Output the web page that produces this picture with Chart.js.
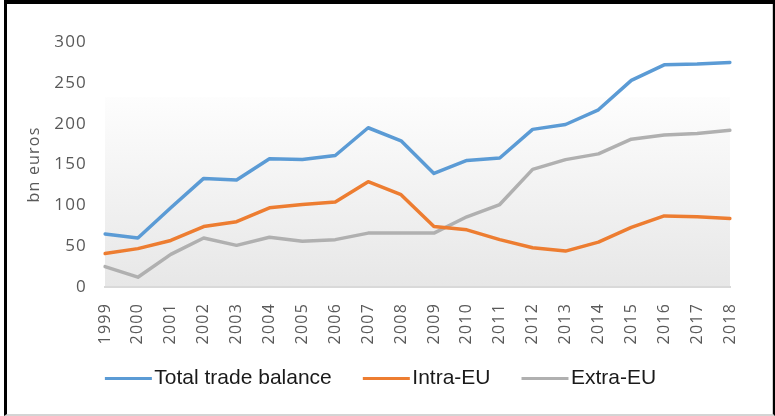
<!DOCTYPE html>
<html><head><meta charset="utf-8">
<script src="https://cdn.jsdelivr.net/npm/chart.js@4"></script>
<style>
html,body{margin:0;padding:0;background:#fff;width:775px;height:416px;overflow:hidden}
#wrap{position:relative;width:775px;height:416px}
canvas{position:absolute;left:0;top:0}
#frame{position:absolute;left:4px;top:0;width:771px;height:416px;box-sizing:border-box;border-left:3px solid #000;border-top:4px solid #000;border-right:2px solid #000;border-bottom:2px solid #d4d4d4;box-shadow:inset -1px 0 0 #cfcfcf;pointer-events:none}
</style></head><body>
<div id="wrap"><canvas id="c" width="775" height="416"></canvas><div id="frame"></div></div>
<script>
const years = ['1999','2000','2001','2002','2003','2004','2005','2006','2007','2008','2009','2010','2011','2012','2013','2014','2015','2016','2017','2018'];
const totalBalance = [65, 60, 97, 133, 131, 157, 156, 161, 195, 179, 139, 155, 158, 193, 199, 217, 253, 272, 273, 275];
const intraEU = [41, 47, 57, 74, 80, 97, 101, 104, 129, 113, 74, 70, 58, 48, 44, 55, 73, 87, 86, 84];
const extraEU = [25, 12, 40, 60, 51, 61, 56, 58, 66, 66, 66, 86, 101, 144, 156, 163, 181, 186, 188, 192];
const seriesNames = ['Total trade balance', 'Intra-EU', 'Extra-EU'];
const seriesColors = ['#5b9bd5', '#ed7d31', '#b0b0b0'];
const yMin = 0, yMax = 300, yStep = 50;
const yTitle = 'bn euros';

function markerImage(color) {
  const c = document.createElement('canvas');
  c.width = 124; c.height = 3;
  const g = c.getContext('2d');
  g.fillStyle = color;
  g.fillRect(54, 0, 47, 3);
  return c;
}
const markers = seriesColors.map(markerImage);

const styling = {
  id: 'styling',
  afterInit(chart) {
    const lg = chart.legend;
    if (!lg) return;
    const d = lg.draw.bind(lg), f = lg.fit.bind(lg);
    lg.draw = function () { const c = chart.ctx; const s = c.letterSpacing; c.letterSpacing = '0px'; d(); c.letterSpacing = s; };
    lg.fit = function () { const c = chart.ctx; const s = c.letterSpacing; c.letterSpacing = '0px'; f(); c.letterSpacing = s; };
  },
  beforeDraw(chart) {
    const { ctx, chartArea: a } = chart;
    ctx.save();
    const top = a.top + (a.bottom - a.top) * 0.2254;
    const g = ctx.createLinearGradient(0, top, 0, a.bottom);
    g.addColorStop(0, '#fdfdfd');
    g.addColorStop(1, '#e7e7e7');
    ctx.fillStyle = g;
    ctx.fillRect(a.left, top, a.right - a.left, a.bottom - top);
    ctx.restore();
    ctx.letterSpacing = '1.2px';
  }
};

const mk = (i, data) => ({
  label: seriesNames[i], data, borderColor: seriesColors[i], backgroundColor: seriesColors[i],
  borderWidth: 3.5, pointRadius: 0, pointHoverRadius: 0, fill: false, tension: 0,
  borderJoinStyle: 'round', borderCapStyle: 'round'
});

new Chart(document.getElementById('c'), {
  type: 'line',
  data: { labels: years, datasets: [mk(0, totalBalance), mk(1, intraEU), mk(2, extraEU)] },
  options: {
    responsive: false, animation: false, devicePixelRatio: 1,
    layout: { padding: { left: 8, right: 45, top: 42, bottom: 17 } },
    plugins: {
      tooltip: { enabled: false },
      legend: {
        position: 'bottom',
        labels: {
          usePointStyle: true, pointStyleWidth: 62, padding: 8, color: '#1a1a1a',
          font: { family: '"Liberation Sans"', size: 21 },
          generateLabels: (chart) => Chart.defaults.plugins.legend.labels.generateLabels(chart).map((it, i) => { it.pointStyle = markers[i]; return it; })
        }
      }
    },
    scales: {
      x: {
        grid: { display: false, drawTicks: false },
        border: { display: true, color: '#d9d9d9', width: 2 },
        ticks: { minRotation: 90, maxRotation: 90, autoSkip: false, padding: 16, color: '#595959', font: { family: '"Open Sans"', size: 16 } },
        afterFit(s) { s.height = 73; }
      },
      y: {
        min: yMin, max: yMax,
        grid: { display: false, drawTicks: false },
        border: { display: false },
        ticks: { stepSize: yStep, padding: 18, color: '#595959', font: { family: '"Open Sans"', size: 17 } },
        title: { display: true, text: yTitle, color: '#595959', font: { family: '"Open Sans"', size: 16 }, padding: { top: 17, bottom: 4 } },
        afterFit(s) { s.width = 97; }
      }
    }
  },
  plugins: [styling]
});
</script>
</body></html>
